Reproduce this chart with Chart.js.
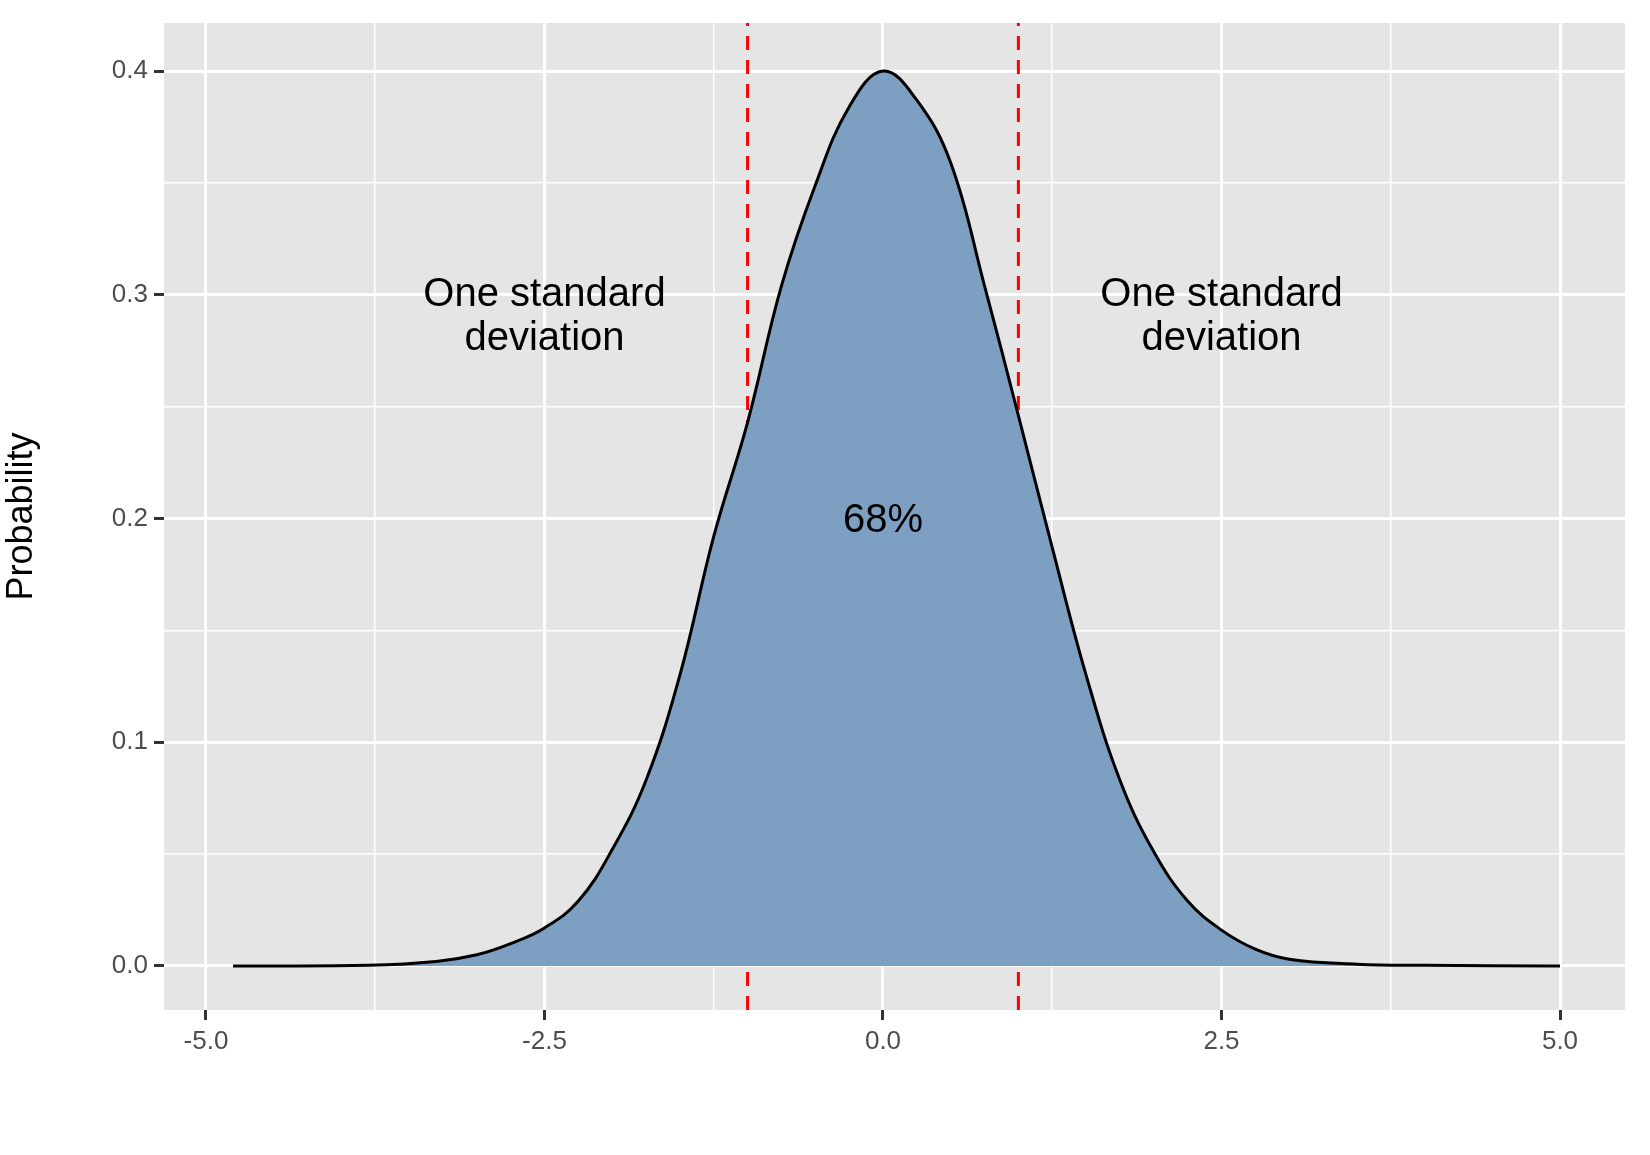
<!DOCTYPE html><html><head><script src="https://cdn.jsdelivr.net/npm/chart.js@4"></script>
<style>html,body{margin:0;padding:0;background:#fff}#w{width:1650px;height:1155px}</style></head><body><div id="w"><canvas id="c"></canvas></div>
<script>
const xs=[-4.8,-3.8,-3.3,-3.0,-2.75,-2.5,-2.25,-2.0,-1.75,-1.5,-1.25,-1.0,-0.75,-0.5,-0.25,0,0.25,0.5,0.75,1.0,1.25,1.5,1.75,2.0,2.25,2.5,2.75,3.0,3.5,4.0,5.0];
const ys=[0,0.0003,0.002,0.005,0.010,0.017,0.029,0.052,0.083,0.130,0.192,0.243,0.304,0.349,0.384,0.4,0.387,0.359,0.304,0.246,0.187,0.130,0.083,0.051,0.029,0.016,0.0075,0.003,0.0008,0.0003,0];
const sdLines=[-1,1];
const labels=[{x:-2.5,y:0.29,t:["One standard","deviation"]},{x:2.5,y:0.29,t:["One standard","deviation"]},{x:0,y:0.199,t:["68%"]}];
const F='"Liberation Sans", Arial, sans-serif';
const bg={id:'bg',beforeDraw(c){const a=c.chartArea,x=c.ctx;x.save();x.fillStyle='#e5e5e5';x.fillRect(a.left,a.top,a.width,a.height);x.restore();},
afterDatasetsDraw(c){const x=c.ctx,sx=c.scales.x,sy=c.scales.y;x.save();x.fillStyle='#000';x.font='40px '+F;x.textAlign='center';x.textBaseline='middle';
labels.forEach(l=>{const n=l.t.length;l.t.forEach((s,i)=>x.fillText(s,sx.getPixelForValue(l.x),sy.getPixelForValue(l.y)+(i-(n-1)/2)*44));});x.restore();}};
const ds=[{data:xs.map((v,i)=>({x:v,y:ys[i]})),borderColor:'#000',borderWidth:3,backgroundColor:'rgba(125,159,194,1)',fill:'origin',pointRadius:0,tension:0.4}];
sdLines.forEach(v=>ds.push({data:[{x:v,y:-0.0197},{x:v,y:0.4215}],borderColor:'#ff0000',borderWidth:3,borderDash:[14,10],pointRadius:0,fill:false}));
const isMaj=(v,s)=>Math.abs(v/s-Math.round(v/s))<1e-6;
new Chart(document.getElementById('c'),{type:'line',data:{datasets:ds},plugins:[bg],options:{animation:false,responsive:true,maintainAspectRatio:false,
layout:{padding:{top:23,right:25,left:0,bottom:0}},plugins:{legend:{display:false},tooltip:{enabled:false}},
scales:{x:{type:'linear',min:-5.31,max:5.48,afterBuildTicks(a){a.ticks=[-5,-3.75,-2.5,-1.25,0,1.25,2.5,3.75,5].map(v=>({value:v}));},afterFit(a){a.height=145;},
ticks:{color:'#4d4d4d',font:{size:26,family:F},padding:6,maxRotation:0,autoSkip:false,callback:v=>isMaj(v,2.5)?v.toFixed(1):''},
grid:{color:'#fff',lineWidth:c=>isMaj(c.tick.value,2.5)?3:1.5,tickLength:10,tickColor:c=>isMaj(c.tick.value,2.5)?'#333':'rgba(0,0,0,0)',tickWidth:3},border:{display:false}},
y:{min:-0.0197,max:0.4215,afterBuildTicks(a){a.ticks=[0,0.05,0.1,0.15,0.2,0.25,0.3,0.35,0.4].map(v=>({value:v}));},afterFit(a){a.width=164;},
title:{display:true,text:'Probability',color:'#000',font:{size:36,family:F},padding:{top:0,bottom:10}},
ticks:{color:'#4d4d4d',font:{size:26,family:F},padding:6,autoSkip:false,callback:v=>isMaj(v,0.1)?v.toFixed(1):''},
grid:{color:'#fff',lineWidth:c=>isMaj(c.tick.value,0.1)?3:1.5,tickLength:10,tickColor:c=>isMaj(c.tick.value,0.1)?'#333':'rgba(0,0,0,0)',tickWidth:3},border:{display:false}}}}});
</script></body></html>
